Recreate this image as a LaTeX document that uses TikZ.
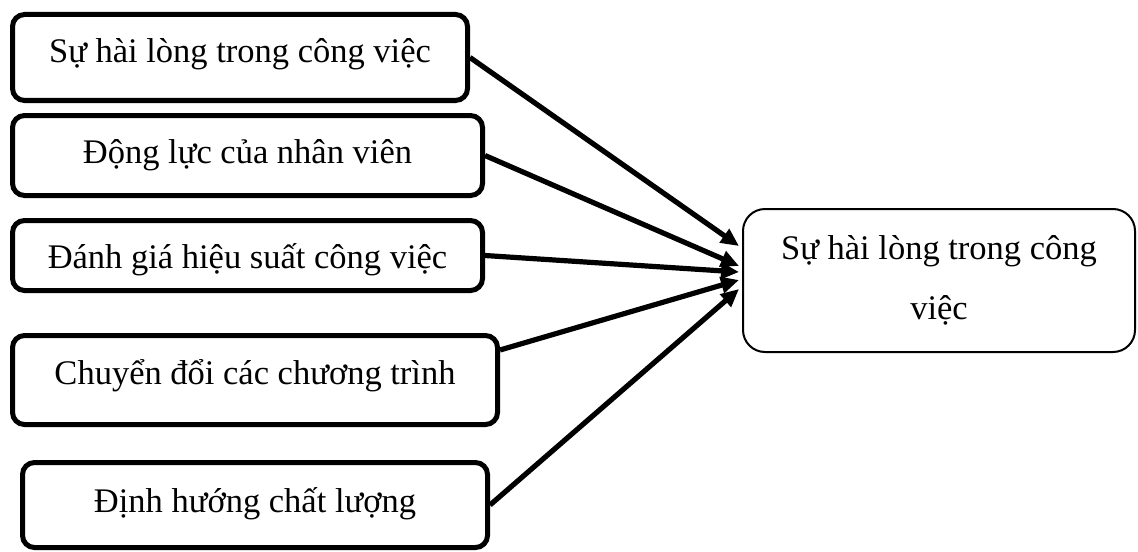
\documentclass[tikz,border=0pt]{standalone}
\usepackage{fontspec}
\setmainfont{Liberation Serif}
\usetikzlibrary{arrows.meta}
\begin{document}
\begin{tikzpicture}[x=0.5pt,y=-0.5pt,
  factor/.style={draw, line width=2.5pt, rounded corners=6pt, inner sep=2pt,
    font=\fontsize{17.25}{20}\selectfont},
  outcome/.style={draw, line width=1pt, rounded corners=11pt, align=center,
    inner sep=2pt, font=\fontsize{17.25}{30}\selectfont},
  link/.style={line width=2.6pt, -{Triangle[length=9pt,width=8pt]}}
]
\useasboundingbox (0,0) rectangle (1138,551);

% factor boxes on the left
\node[factor, minimum width=227.5pt, minimum height=43pt, text height=14.75pt, text depth=9.25pt]
  (b1) at (240,57.5) {Sự hài lòng trong công việc};
\node[factor, minimum width=235pt, minimum height=40pt, text height=15.75pt, text depth=8.25pt]
  (b2) at (247.5,155.5) {Động lực của nhân viên};
\node[factor, minimum width=235pt, minimum height=35pt, text height=18.25pt, text depth=5.75pt]
  (b3) at (247.5,255.5) {Đánh giá hiệu suất công việc};
\node[factor, minimum width=242.5pt, minimum height=44.5pt, text height=14pt, text depth=10pt]
  (b4) at (255,380) {Chuyển đổi các chương trình};
\node[factor, minimum width=232.5pt, minimum height=42.5pt, text height=15.5pt, text depth=8.5pt]
  (b5) at (255,505) {Định hướng chất lượng};

% outcome box on the right
\node[outcome, minimum width=196pt, minimum height=71.5pt]
  (R) at (939,280.5) {Sự hài lòng trong công\\việc};

% influence arrows
\draw[link] (b1.east) -- ([xshift=-1.5pt,yshift=17.25pt]R.west);
\draw[link] (b2.east) -- ([xshift=-1.5pt,yshift=7.25pt]R.west);
\draw[link] (b3.east) -- ([xshift=-1.5pt,yshift=4.25pt]R.west);
\draw[link] ([yshift=15pt]b4.east) -- ([xshift=-1.5pt,yshift=0.25pt]R.west);
\draw[link] (b5.east) -- ([xshift=-1.5pt,yshift=-4.25pt]R.west);
\end{tikzpicture}
\end{document}
